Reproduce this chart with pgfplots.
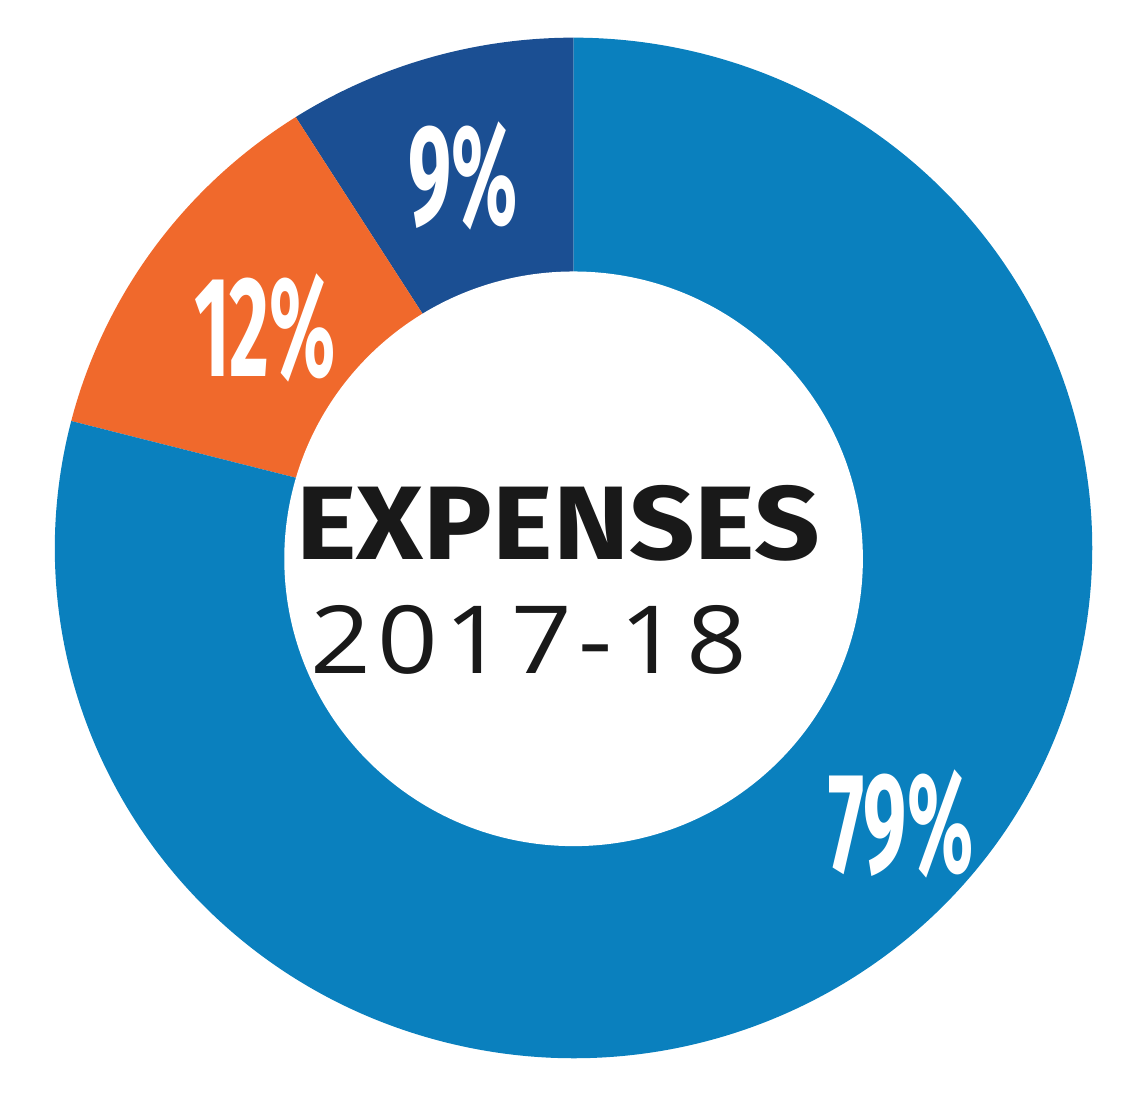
\documentclass[border=0pt]{standalone}
\usepackage{pgfplots}
\pgfplotsset{compat=1.18}
\usepackage{pgfplotstable}
\usepackage{graphicx}
\usepackage{fontspec}
\setmainfont{Fira Sans}
\newfontfamily\yearfont[LetterSpace=6]{Open Sans}
\definecolor{lblue}{HTML}{0A80BE}
\definecolor{dblue}{HTML}{1B4F93}
\definecolor{orng}{HTML}{F0692C}

% shares of expenses 2017-18 (percent)
\pgfplotstableread{
name value
big 79
orange 12
dark 9
}\shares

% label positions (pixel frame, y up)
\pgfplotstableread{
x y label
460 895 9\%
260 742 12\%
902 241 79\%
}\labels

\begin{document}
\begin{tikzpicture}
\pgfplotstablegetelem{0}{value}\of\shares \let\vA\pgfplotsretval
\pgfplotstablegetelem{1}{value}\of\shares \let\vB\pgfplotsretval
\pgfplotstablegetelem{2}{value}\of\shares \let\vC\pgfplotsretval
\pgfmathsetmacro{\aA}{90}
\pgfmathsetmacro{\aB}{90+3.6*\vC}
\pgfmathsetmacro{\aC}{\aB+3.6*\vB}
\pgfmathsetmacro{\aD}{\aC+3.6*\vA}
\begin{axis}[
  width=11.22cm, height=10.73cm, scale only axis,
  xmin=0, xmax=1122, ymin=0, ymax=1073,
  hide axis, clip=false,
]
\addplot[draw=none, mark=none] coordinates {(0,0) (1122,1073)};
% wedges
\fill[dblue] (axis cs:571.5,520) -- ++(\aA:5.235cm and 5.15cm)
   arc[start angle=\aA, end angle=\aB, x radius=5.235cm, y radius=5.15cm] -- cycle;
\fill[orng] (axis cs:571.5,520) -- ++(\aB:5.235cm and 5.15cm)
   arc[start angle=\aB, end angle=\aC, x radius=5.235cm, y radius=5.15cm] -- cycle;
\fill[lblue] (axis cs:571.5,520) -- ++(\aC:5.235cm and 5.15cm)
   arc[start angle=\aC, end angle=\aD, x radius=5.235cm, y radius=5.15cm] -- cycle;
% hole
\fill[white] (axis cs:571.5,509) ellipse [x radius=2.92cm, y radius=2.9cm];
% percentage labels
\addplot[draw=none, mark=none, point meta=explicit symbolic,
  nodes near coords={\scalebox{0.54}[1]{\pgfplotspointmeta}},
  nodes near coords style={anchor=center, inner sep=0pt, text=white,
    font=\fontsize{41}{41}\selectfont\bfseries}]
  table[meta=label] \labels;
\node[anchor=base, inner sep=0pt, font=\fontsize{30}{30}\selectfont\bfseries, text=black!90]
  at (axis cs:556,508) {\scalebox{1.10}[1]{EXPENSES}};
\node[anchor=base, inner sep=0pt, font=\fontsize{27}{27}\selectfont\yearfont, text=black!90]
  at (axis cs:526,393) {\scalebox{1.13}[1]{2017-18}};
\end{axis}
\end{tikzpicture}
\end{document}
